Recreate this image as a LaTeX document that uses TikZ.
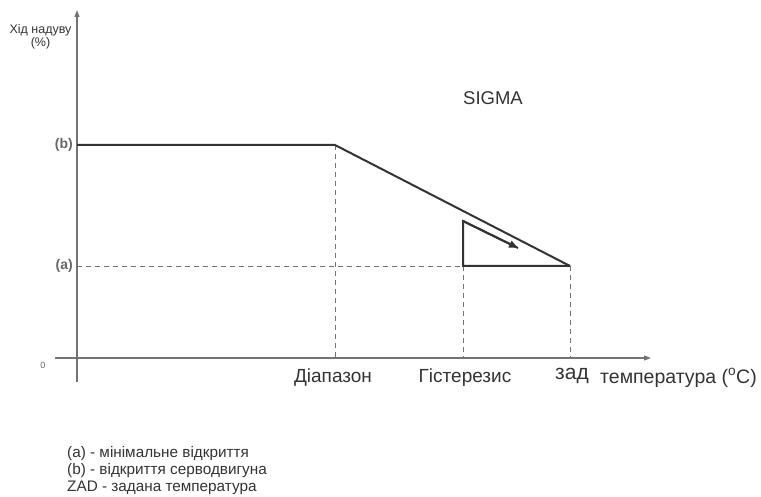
\documentclass[tikz,border=0pt]{standalone}
\usepackage{fontspec}
\setmainfont{Liberation Sans}
\usetikzlibrary{arrows.meta,positioning}
\newcommand{\fsz}[2]{\fontsize{#1}{#2}\selectfont}

\begin{document}
\begin{tikzpicture}[x=1pt, y=-1pt, auto,
	axis/.style={draw=black!55, line width=1.1pt, -{Triangle[length=7pt,width=5pt]}},
	curve/.style={draw=black!80, line width=2pt},
	guide/.style={draw=black!55, line width=0.9pt, dash pattern=on 5pt off 4pt},
	txt/.style={text=black!80, inner sep=0pt},
	tick/.style={txt, text=black!60, font=\fsz{14}{14}\bfseries}]
	\useasboundingbox (0,0) rectangle (761,497);

	% axes
	\coordinate (ybot) at (77,382);
	\coordinate (ytop) at (77,10);
	\coordinate (xleft) at (55,358);
	\coordinate (xright) at (651,358);
	\draw[axis] (ybot) -- (ytop);
	\draw[axis] (xleft) -- (xright);

	% points of the curve
	\coordinate (bstart) at (77,145);
	\coordinate (knee) at (335,145);
	\coordinate (zad) at (570,266);
	\coordinate (astart) at (77,266);
	\coordinate (hys) at (463,266);
	\coordinate (hystop) at (463,221);
	\coordinate (hysend) at (518,248);
	\coordinate (kneefoot) at (335,358);
	\coordinate (hysfoot) at (463,358);
	\coordinate (zadfoot) at (570,358);

	% guides
	\draw[guide] (astart) -- (hys);
	\draw[guide] (knee) -- (kneefoot);
	\draw[guide] (hys) -- (hysfoot);
	\draw[guide] (zad) -- (zadfoot);

	% curve and hysteresis
	\draw[curve] (bstart) -- (knee) -- (zad);
	\draw[curve, line join=miter] (hysend) -- (hystop) -- (hys) -- (zad);
	\draw[curve, -{Triangle[length=9pt,width=7pt]}] (hystop) -- (hysend);

	% labels
	\node[txt, anchor=base, align=center, font=\fsz{12.5}{13}] (ylabel) at (40.5,47) {Хід надуву\\(\%)};
	\node[tick, anchor=east] (blabel) at (73,145) {(b)};
	\node[tick, anchor=east] (alabel) at (73,266) {(a)};
	\node[txt, text=black!60, font=\fsz{9}{9}] (zero) at (43,365) {0};
	\node[txt, font=\fsz{18.5}{18.5}] (sigma) at (493,98) {SIGMA};
	\node[txt, font=\fsz{19}{19}] (diap) at (333,378) {Діапазон};
	\node[txt, font=\fsz{19}{19}] (hyst) at (465,378) {Гістерезис};
	\node[txt, font=\fsz{21}{21}] (zadlbl) at (572,376) {зад};
	\node[txt, anchor=west, font=\fsz{19.5}{19.5}] (temp) at (600,378) {температура (\textsuperscript{o}C)};

	% legend
	\node[txt, anchor=base west, align=left, font=\fsz{15.3}{17}] (legend) at (67,491)
		{(a) - мінімальне відкриття\\
		 (b) - відкриття серводвигуна\\
		 ZAD - задана температура};
\end{tikzpicture}
\end{document}
